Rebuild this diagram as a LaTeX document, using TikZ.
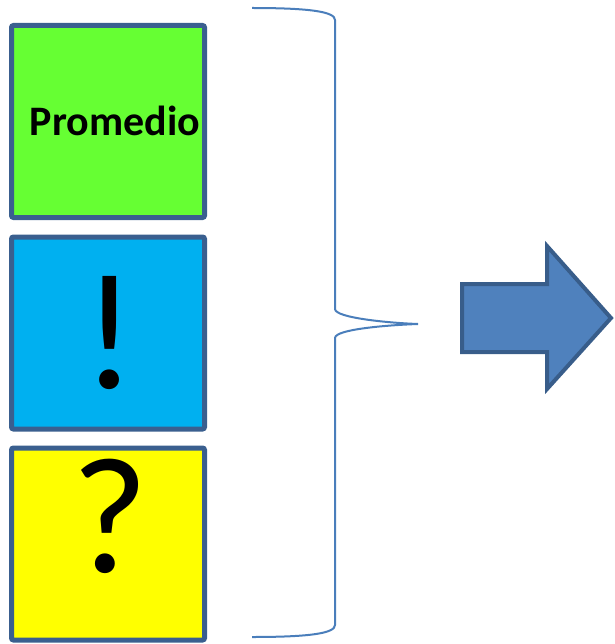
\documentclass[tikz,border=0pt]{standalone}
\usepackage{fontspec}
\setmainfont{Carlito}
\usepackage{tikz}
\usetikzlibrary{arrows}
\definecolor{boxline}{HTML}{3A5F8F}
\definecolor{promgreen}{HTML}{66FF33}
\definecolor{excblue}{HTML}{00B0F0}
\definecolor{qyellow}{HTML}{FFFF00}
\definecolor{bracecol}{HTML}{4A7EBB}
\definecolor{arrowfill}{HTML}{4F81BD}
\definecolor{arrowline}{HTML}{385D8A}
\tikzstyle{box} = [draw=boxline, line width=5pt, rounded corners=2pt, minimum width=193pt, minimum height=192pt, inner sep=0pt]
\tikzstyle{bigmark} = [inner sep=0pt, font=\fontsize{166}{166}\selectfont]

\begin{document}
\begin{tikzpicture}[x=1pt,y=-1pt]
	\useasboundingbox (0,0) rectangle (614,644);
	% the three squares
	\node[box, fill=promgreen] (prom) at (108,121.5) {};
	\node[box, fill=excblue] (excl) at (108,333) {};
	\node[box, fill=qyellow] (quest) at (108,544) {};
	\node[inner sep=0pt, font=\fontsize{42}{42}\selectfont\bfseries] (promtext) at (115,121) {Promedio};
	\node[bigmark] (excltext) at (110,333) {!};
	\node[bigmark] (questtext) at (110,516) {?};
	% brace
	\draw[bracecol, line width=2pt] (252,8) .. controls (312,8) and (335,12) .. (335,20)
		-- (335,309) .. controls (335,318) and (390,323) .. (418,324)
		.. controls (390,325) and (335,329) .. (335,338)
		-- (335,625) .. controls (335,633) and (312,637) .. (252,637);
	% arrow
	\draw[arrowline, fill=arrowfill, line width=4pt] (462,284) -- (547,284) -- (547,246) -- (611,318)
		-- (547,389) -- (547,352) -- (462,352) -- cycle;
\end{tikzpicture}
\end{document}
